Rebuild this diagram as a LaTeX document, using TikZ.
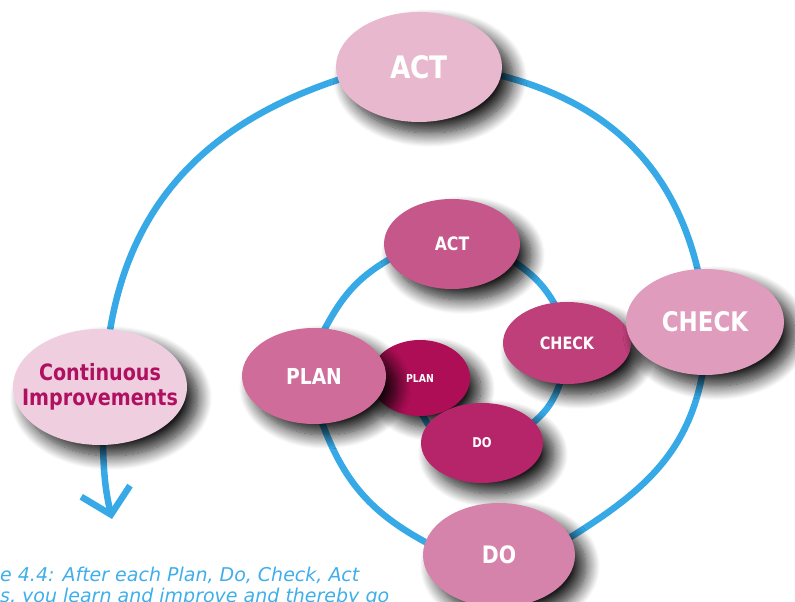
\documentclass[tikz,border=0pt]{standalone}
\usepackage{fontspec}
\setmainfont{DejaVu Sans}[FakeStretch=0.85]
\newfontfamily\capfont{DejaVu Sans}
\usetikzlibrary{shapes.geometric,shadows.blur,backgrounds,arrows.meta}

\definecolor{loopblue}{HTML}{36A9E6}
\definecolor{capblue}{HTML}{40AEEA}
\definecolor{actbig}{HTML}{E8B8CE}
\definecolor{checkbig}{HTML}{DF9CBD}
\definecolor{dobig}{HTML}{D683AB}
\definecolor{planbig}{HTML}{CF6C9A}
\definecolor{actsmall}{HTML}{C5578A}
\definecolor{checksmall}{HTML}{BF3F7A}
\definecolor{dosmall}{HTML}{B6256A}
\definecolor{plansmall}{HTML}{AD0E55}
\definecolor{cifill}{HTML}{EFCFDF}
\definecolor{citext}{HTML}{B01060}

\newcommand\phasefont[1]{\bfseries\fontsize{#1}{#1}\selectfont}

\tikzset{
  phase/.style={ellipse, inner sep=0pt, text=white,
    blur shadow={shadow xshift=11pt, shadow yshift=-11pt,
      shadow blur radius=14pt, shadow blur steps=16, shadow opacity=90}},
  loop/.style={draw=loopblue, line width=6.5pt,
    shorten <=-4pt, shorten >=-4pt},
  caption/.style={anchor=base west, inner sep=0pt, text=capblue,
    font=\capfont\itshape\fontsize{19}{19}\selectfont},
}

\begin{document}
\begin{tikzpicture}[x=1pt,y=1pt]
  \useasboundingbox (0,0) rectangle (795,602);
  \clip (0,0) rectangle (795,602);
  % inner cycle
  \node[phase, fill=actsmall, minimum width=136pt, minimum height=90pt,
    font=\phasefont{18.5}] (sACT) at (452,358) {ACT};
  \node[phase, fill=checksmall, minimum width=128pt, minimum height=82pt,
    font=\phasefont{17}] (sCHECK) at (567,259) {CHECK};
  \node[phase, fill=plansmall, minimum width=100pt, minimum height=76pt,
    font=\phasefont{11}] (sPLAN) at (420,224) {PLAN};
  \node[phase, fill=dosmall, minimum width=122pt, minimum height=80pt,
    font=\phasefont{13.5}] (sDO) at (482,159) {DO};
  % outer cycle
  \node[phase, fill=planbig, minimum width=144pt, minimum height=96pt,
    font=\phasefont{22}] (bPLAN) at (314,226) {PLAN};
  \node[phase, fill=actbig, minimum width=166pt, minimum height=110pt,
    font=\phasefont{31}] (bACT) at (419,535) {ACT};
  \node[phase, fill=checkbig, minimum width=158pt, minimum height=106pt,
    font=\phasefont{27}] (bCHECK) at (705,280) {CHECK};
  \node[phase, fill=dobig, minimum width=152pt, minimum height=104pt,
    font=\phasefont{24}] (bDO) at (499,47) {DO};
  % way out
  \node[phase, fill=cifill, text=citext, minimum width=174pt, minimum height=116pt,
    inner xsep=-18pt, align=center, font=\bfseries\fontsize{22.5}{25}\selectfont]
    (CI) at (100,215) {Continuous\\Improvements};
  \coordinate (ciend) at (112,83);
  % spiral
  \begin{scope}[on background layer]
    \draw[loop] (sDO.161) to[out=130,in=-50] (sPLAN.-85);
    \draw[loop] (sCHECK.-100) to[out=250,in=40] (sDO.22);
    \draw[loop] (sACT.-16) to[out=-35,in=120] (sCHECK.108);
    \draw[loop] (bPLAN.77) to[out=62,in=210] (sACT.194);
    \draw[loop] (bDO.170) to[out=152,in=-70] (bPLAN.-80);
    \draw[loop] (bCHECK.-93) to[out=260,in=32] (bDO.14);
    \draw[loop] (bACT.-6) to[out=-14,in=103] (bCHECK.98);
    \draw[loop] (bACT.189) to[out=198,in=81] (CI.80);
    \draw[loop, shorten >=0pt, -{Straight Barb[length=24pt,width=50pt]}]
      (CI.-87) to[bend right=6] (ciend);
  \end{scope}
  % caption
  \node[caption] (capA) at (0,20) {e 4.4: After each Plan, Do, Check, Act};
  \node[caption] (capB) at (0,-1) {s, you learn and improve and thereby go};
\end{tikzpicture}
\end{document}
